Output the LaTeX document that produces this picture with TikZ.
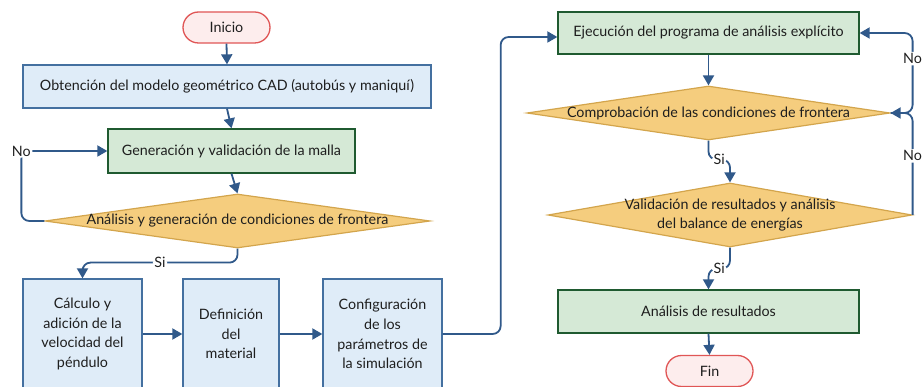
\documentclass[tikz,border=0pt]{standalone}
\usepackage{fontspec}
\setmainfont{Lato}
\usetikzlibrary{arrows.meta,shapes.geometric,calc}
\definecolor{conncol}{HTML}{30598A}
\definecolor{bluefill}{HTML}{DFECF8}
\definecolor{bluebd}{HTML}{4470A0}
\definecolor{greenfill}{HTML}{D5E9D6}
\definecolor{greenbd}{HTML}{1F5A30}
\definecolor{termfill}{HTML}{FDEDED}
\definecolor{termbd}{HTML}{E05656}
\definecolor{diafill}{HTML}{F5CD7E}
\definecolor{diabd}{HTML}{D3A54C}
\definecolor{textcol}{HTML}{1E1E1E}
\begin{document}
\begin{tikzpicture}[x=1pt,y=-1pt,
  font=\fontsize{14.3}{19.7}\selectfont, text=textcol,
  bluebox/.style={draw=bluebd, fill=bluefill, line width=1.3pt, inner sep=0pt, align=center},
  greenbox/.style={draw=greenbd, fill=greenfill, line width=1.3pt, inner sep=0pt, align=center},
  termbox/.style={draw=termbd, fill=termfill, line width=1.3pt, rounded corners=15.5pt, inner sep=0pt,
                  minimum width=87pt, minimum height=31pt},
  diabox/.style={diamond, draw=diabd, fill=diafill, line width=1.2pt, inner sep=0pt},
  diatext/.style={align=center, inner sep=0pt},
  conn/.style={draw=conncol, line width=1.8pt, rounded corners=8pt,
               -{Triangle[length=10pt,width=11pt]}},
  lbl/.style={fill=white, inner sep=1.5pt, text=textcol}]
\useasboundingbox (0,0) rectangle (922,387);
\fill[white] (0,0) rectangle (922,387);

% left column
\node[termbox] (ini) at (226.5,27.5) {Inicio};
\node[bluebox, minimum width=408pt, minimum height=43pt] (obt) at (227,86.5)
  {Obtención del modelo geométrico CAD (autobús y maniquí)};
\node[greenbox, minimum width=247pt, minimum height=44pt] (gen) at (231.5,151)
  {Generación y validación de la malla};
\node[diabox, minimum width=385pt, minimum height=54pt] (d1) at (237.5,221) {};
\node[diatext] (d1t) at (d1.center) {Análisis y generación de condiciones de frontera};

% bottom row
\node[bluebox, minimum width=119pt, minimum height=110pt] (calc) at (82.5,334)
  {Cálculo y\\adición de la\\velocidad del\\péndulo};
\node[bluebox, minimum width=96pt, minimum height=110pt] (def) at (231,334)
  {Definición\\del\\material};
\node[bluebox, minimum width=119pt, minimum height=110pt] (conf) at (382.5,334)
  {Configuración\\de los\\parámetros de\\la simulación};

% right column
\node[greenbox, minimum width=301pt, minimum height=42pt] (ej) at (708.5,33)
  {Ejecución del programa de análisis explícito};
\node[diabox, minimum width=363pt, minimum height=54pt] (d2) at (708.5,113) {};
\node[diatext] (d2t) at (d2.center) {Comprobación de las condiciones de frontera};
\node[diabox, minimum width=364pt, minimum height=64pt] (d3) at (730,215) {};
\node[diatext] (d3t) at (d3.center) {Validación de resultados y análisis\\del balance de energías};
\node[greenbox, minimum width=301pt, minimum height=43pt] (ana) at (708.5,311.5)
  {Análisis de resultados};
\node[termbox] (fin) at (709.5,371) {Fin};

% connectors
\draw[conn] (ini.south) -- (obt.north);
\draw[conn] (obt.south) -- (gen.north);
\draw[conn] (gen.south) -- (d1.north);
\draw[conn] (d1.south) -- ++(0,14) -| node[lbl, pos=0.25] (si1) {Si} (calc.north);
\draw[conn] (d1.west) -| ([xshift=-86pt]gen.west) node[lbl] (no1) {No} -- (gen.west);
\draw[conn] (calc.east) -- (def.west);
\draw[conn] (def.east) -- (conf.west);
\draw[conn] (conf.east) -- ++(58,0) |- ([yshift=-4pt]ej.west);
\draw[conn] (ej.south) -- (d2.north);
\draw[conn] (d2.south) -- ++(0,19) -| node[lbl, pos=0.25] (si2) {Si} (d3.north);
\draw[conn] (d3.south) -- ++(0,21) -| node[lbl, pos=0.25] (si3) {Si} (ana.north);
\draw[conn] (ana.south) -- (fin.north);
\draw[conn] (d2.east) -- ++(22,0) |- node[lbl, pos=0.34] (no2) {No} (ej.east);
\draw[conn] (d3.east) |- node[lbl, pos=0.29] (no3) {No} (d2.east);
\end{tikzpicture}
\end{document}
